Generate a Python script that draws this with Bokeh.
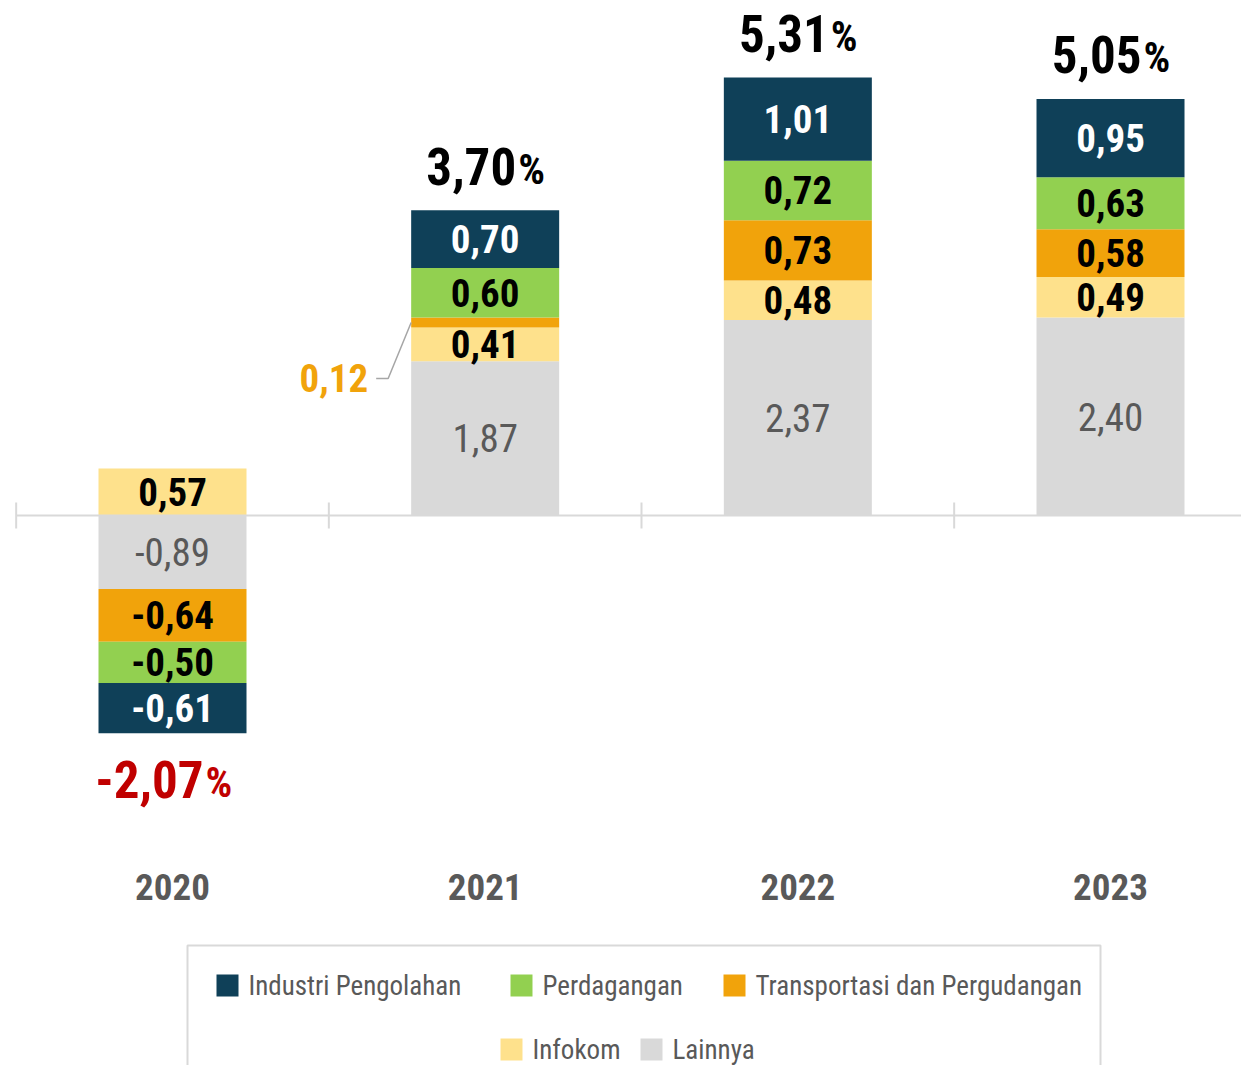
from bokeh.plotting import figure
from bokeh.models import Range1d, ColumnDataSource
from bokeh.core.properties import value
from bokeh.embed import file_html
from bokeh.resources import INLINE

# ---------------- data ----------------
years = ["2020", "2021", "2022", "2023"]
series = ["Industri Pengolahan", "Perdagangan", "Transportasi dan Pergudangan", "Infokom", "Lainnya"]
industri = [-0.61, 0.70, 1.01, 0.95]
perdagangan = [-0.50, 0.60, 0.72, 0.63]
transportasi = [-0.64, 0.12, 0.73, 0.58]
infokom = [0.57, 0.41, 0.48, 0.49]
lainnya = [-0.89, 1.87, 2.37, 2.40]
totals = [-2.07, 3.70, 5.31, 5.05]

# ---------------- style ----------------
colors = ["#0f4058", "#92d050", "#f1a30b", "#fee18c", "#d9d9d9"]
label_colors = ["#ffffff", "#000000", "#000000", "#000000", "#595959"]
label_styles = ["bold", "bold", "bold", "bold", "normal"]
FONT = value("'Liberation Sans Narrow', 'Noto Sans Condensed', 'Roboto Condensed', 'Open Sans Condensed', 'DejaVu Sans Condensed', sans-serif")
GRAY = "#595959"

SX = 312.67  # px per category
SY = 82.5    # px per unit


def X(px):
    return (px - 172) / SX


def Y(py):
    return (515 - py) / SY


def fmt(v):
    return f"{v:.2f}".replace(".", ",")


values = [industri, perdagangan, transportasi, infokom, lainnya]
stack_order = [4, 3, 2, 1, 0]  # bottom to top: Lainnya, Infokom, Transportasi, Perdagangan, Industri

W, H = 1241, 1065
p = figure(width=W, height=H, output_backend="svg", toolbar_location=None,
           x_range=Range1d(X(0), X(W)), y_range=Range1d(Y(H), Y(0)),
           min_border=0, outline_line_color=None, background_fill_color="white",
           border_fill_color="white")
p.axis.visible = False
p.grid.visible = False

bar_w = 148 / SX
xs = list(range(len(years)))

pos_top = [0.0] * len(years)
neg_bot = [0.0] * len(years)
seg = {k: {"x": [], "bottom": [], "top": [], "mid": [], "v": []} for k in range(5)}
for si in stack_order:
    for i in xs:
        v = values[si][i]
        if v >= 0:
            b, t = pos_top[i], pos_top[i] + v
            pos_top[i] = t
        else:
            t, b = neg_bot[i], neg_bot[i] + v
            neg_bot[i] = b
        seg[si]["x"].append(i)
        seg[si]["bottom"].append(b)
        seg[si]["top"].append(t)
        seg[si]["mid"].append((b + t) / 2)
        seg[si]["v"].append(v)

for si in stack_order:
    src = ColumnDataSource(dict(x=seg[si]["x"], bottom=seg[si]["bottom"], top=seg[si]["top"]))
    p.vbar(x="x", bottom="bottom", top="top", width=bar_w, source=src,
           fill_color=colors[si], line_color=None)

# segment labels
for si in stack_order:
    lx, ly, lt = [], [], []
    ox, oy, ot = [], [], []
    for i in xs:
        v = seg[si]["v"][i]
        if abs(v) < 0.2:
            ox.append(i - bar_w / 2)
            oy.append(seg[si]["mid"][i])
            ot.append(fmt(v))
        else:
            lx.append(i)
            ly.append(seg[si]["mid"][i])
            lt.append(fmt(v))
    p.text(x=lx, y=ly, text=lt, text_font=FONT, text_font_size="39px",
           text_font_style=label_styles[si], text_color=label_colors[si],
           text_align="center", text_baseline="middle")
    for x0, y0, t in zip(ox, oy, ot):
        # leader line
        p.line(x=[x0, x0 - 23 / SX, x0 - 35 / SX], y=[y0, y0 - 56 / SY, y0 - 56 / SY],
               line_color="#a6a6a6", line_width=1.5)
        p.text(x=[x0 - 43 / SX], y=[y0 - 56 / SY], text=[t], text_font=FONT,
               text_font_size="39px", text_font_style="bold", text_color=colors[si],
               text_align="right", text_baseline="middle")

# totals
for i in xs:
    tot = totals[i]
    if tot >= 0:
        yc = pos_top[i] + 44 / SY
        col = "#000000"
    else:
        yc = neg_bot[i] - 46 / SY
        col = "#c00000"
    p.text(x=[i + 31 / SX], y=[yc], text=[fmt(tot)], text_font=FONT, text_font_size="51px",
           text_font_style="bold", text_color=col, text_align="right", text_baseline="middle")
    p.text(x=[i + 33 / SX], y=[yc - 3 / SY], text=["%"], text_font=FONT, text_font_size="42px",
           text_font_style="bold", text_color=col, text_align="left", text_baseline="middle")

# zero axis line with category-boundary ticks
p.line(x=[X(16), X(1257)], y=[0, 0], line_color="#d9d9d9", line_width=2)
p.segment(x0=[i - 0.5 for i in xs], x1=[i - 0.5 for i in xs],
          y0=[Y(502)] * len(xs), y1=[Y(528)] * len(xs), line_color="#d9d9d9", line_width=2)

# category labels
p.text(x=xs, y=[Y(886)] * len(xs), text=years, text_font=FONT, text_font_size="37px",
       text_font_style="bold", text_color=GRAY, text_align="center", text_baseline="middle")

# legend
p.quad(left=[X(187)], right=[X(1100)], top=[Y(945)], bottom=[Y(1120)],
       fill_color=None, line_color="#d9d9d9", line_width=2)
leg_pos = [(216, 985), (510, 985), (723, 985), (500, 1049), (640, 1049)]
for si, (lx, ly) in enumerate(leg_pos):
    p.quad(left=[X(lx)], right=[X(lx + 22)], top=[Y(ly - 11)], bottom=[Y(ly + 11)],
           fill_color=colors[si], line_color=None)
    p.text(x=[X(lx + 32)], y=[Y(ly)], text=[series[si]], text_font=FONT, text_font_size="27px",
           text_color=GRAY, text_align="left", text_baseline="middle")

open("out.html", "w").write(file_html(p, INLINE))
